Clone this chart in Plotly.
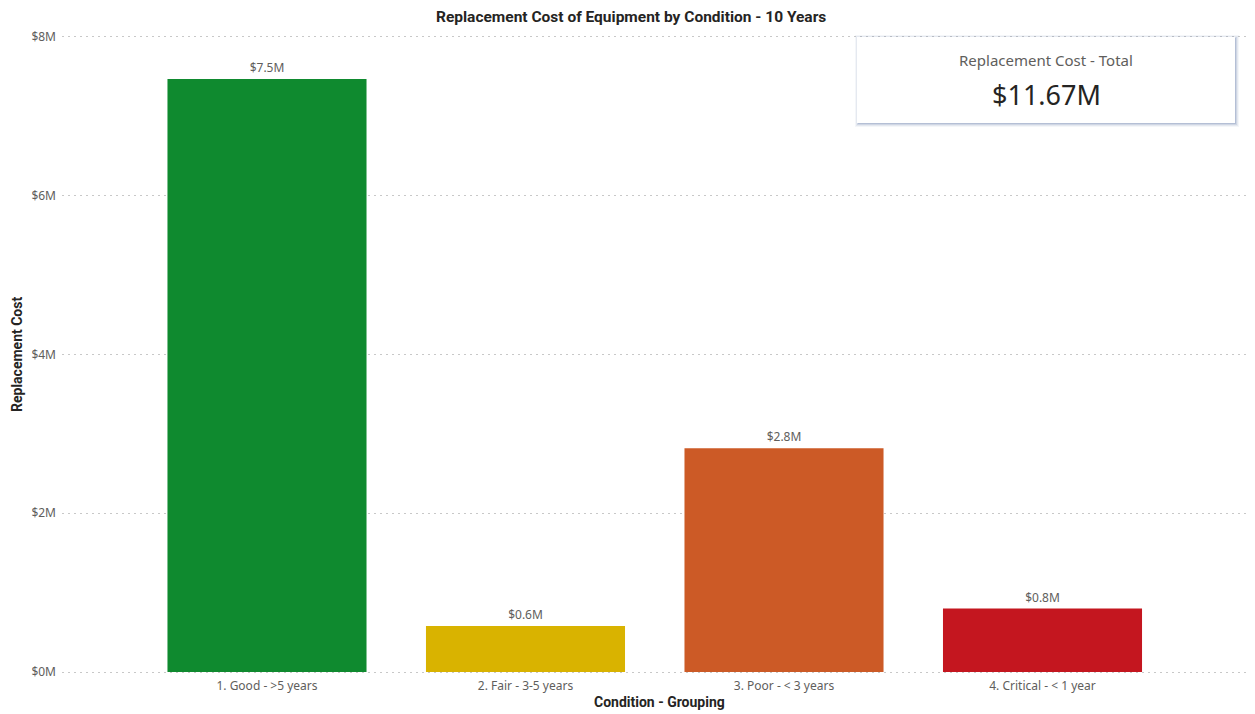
import plotly.graph_objects as go

categories = ["1. Good - >5 years", "2. Fair - 3-5 years", "3. Poor - < 3 years", "4. Critical - < 1 year"]
values_m = [7.47, 0.58, 2.82, 0.80]
labels = ["$7.5M", "$0.6M", "$2.8M", "$0.8M"]
colors = ["#0F8A2F", "#D9B300", "#CC5A26", "#C4161F"]
ytick_vals = [0, 2, 4, 6, 8]
ytick_text = ["$0M", "$2M", "$4M", "$6M", "$8M"]
chart_title = "Replacement Cost of Equipment by Condition - 10 Years"
x_title = "Condition - Grouping"
y_title = "Replacement Cost"
card_title = "Replacement Cost - Total"
total_m = sum(values_m)

# page has an 8px body margin; work in page pixel coordinates
W, H = 1247, 706
YR = [-0.025, 8.025]
# tick 0 at page y 672, tick 8 at page y 37
ppu = (672 - 37) / 8.0
PT = 37 - (YR[1] - 8) * ppu
PB = 672 + (0 - YR[0]) * ppu
PL, PR = 62, 1255
L, R = PL - 8, 0
T = PT - 8
B = (H + 8) - PB

fig = go.Figure()
fig.add_trace(go.Bar(
    x=categories, y=values_m, marker=dict(color=colors, line=dict(width=0)),
    width=0.77, text=labels, textposition="outside", cliponaxis=False,
    textfont=dict(family="Noto Sans", size=12, color="#605E5C"),
    hoverinfo="skip",
))

def px_x(p):
    return (p - PL) / (PR - PL)

def px_y(p):
    return (PB - p) / (PB - PT)

shapes = []
for off, op in [(4, 0.08), (3, 0.12), (2, 0.2), (1, 0.3)]:
    shapes.append(dict(type="rect", xref="paper", yref="paper", layer="above",
                       x0=px_x(857 - off + 2), x1=px_x(1235 + off),
                       y0=px_y(123 + off), y1=px_y(37 - off + 2),
                       fillcolor=f"rgba(120,140,180,{op})", line=dict(width=0)))
shapes.append(dict(type="rect", xref="paper", yref="paper", layer="above",
                   x0=px_x(857), x1=px_x(1235), y0=px_y(123), y1=px_y(37),
                   fillcolor="white", line=dict(width=0)))

fig.update_layout(
    width=W, height=H,
    margin=dict(l=L, r=R, t=T, b=B, pad=0, autoexpand=False),
    paper_bgcolor="white", plot_bgcolor="white",
    showlegend=False,
    xaxis=dict(range=[-0.793, 3.822], showgrid=False, zeroline=False, showline=False,
               ticks="", ticklabelstandoff=3, automargin=False,
               tickfont=dict(family="Noto Sans", size=12, color="#605E5C")),
    yaxis=dict(range=YR, tickvals=ytick_vals, ticktext=ytick_text,
               showgrid=True, gridcolor="#C8C8C8", griddash="2px,4px", gridwidth=1,
               zeroline=False, showline=False, ticks="", ticklabelstandoff=5, automargin=False,
               tickfont=dict(family="Noto Sans", size=12, color="#605E5C")),
    shapes=shapes,
    annotations=[
        dict(text=chart_title, xref="paper", yref="paper", x=px_x(631), y=px_y(17.5),
             xanchor="center", yanchor="middle", showarrow=False,
             font=dict(family="Roboto", size=15.5, color="#252423", weight="bold")),
        dict(text=x_title, xref="paper", yref="paper", x=px_x(659), y=px_y(702),
             xanchor="center", yanchor="middle", showarrow=False,
             font=dict(family="Roboto", size=14, color="#252423", weight="bold")),
        dict(text=y_title, xref="paper", yref="paper", x=px_x(17), y=px_y(355),
             xanchor="center", yanchor="middle", showarrow=False, textangle=-90,
             font=dict(family="Roboto", size=14, color="#252423", weight="bold")),
        dict(text=card_title, xref="paper", yref="paper", x=px_x(1046), y=px_y(60),
             xanchor="center", yanchor="middle", showarrow=False,
             font=dict(family="Noto Sans", size=15, color="#605E5C")),
        dict(text=f"${total_m:.2f}M", xref="paper", yref="paper", x=px_x(1046), y=px_y(95),
             xanchor="center", yanchor="middle", showarrow=False,
             font=dict(family="Noto Sans", size=27, color="#252423")),
    ],
)

fig.write_html("out.html")
